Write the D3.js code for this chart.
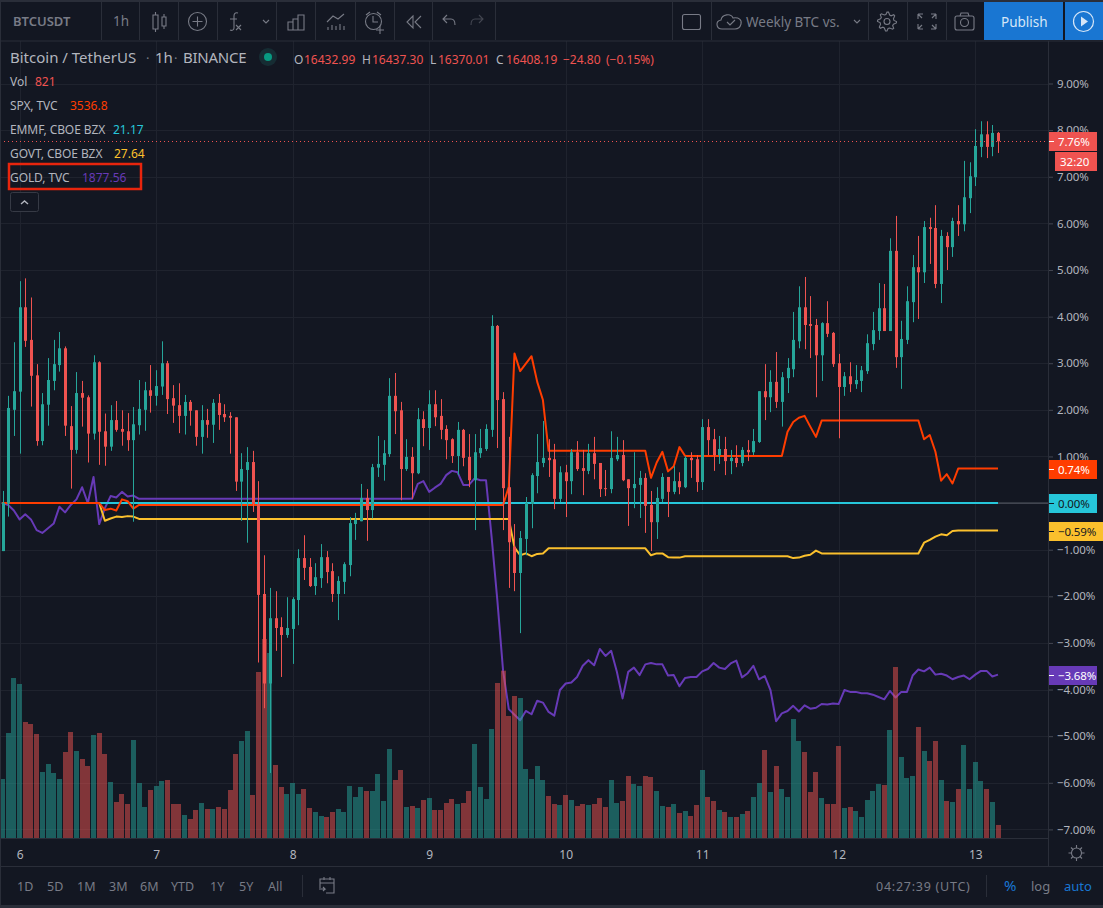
<!DOCTYPE html>
<html><head><meta charset="utf-8">
<script src="https://cdn.jsdelivr.net/npm/d3@7/dist/d3.min.js"></script>
<style>
html,body{margin:0;padding:0;background:#131722;overflow:hidden}
svg{display:block}
text{font-family:"Noto Sans","Open Sans",sans-serif}
</style></head><body><div id="chart"></div>
<script>
// ---------- data (percent change, one candle per hour, Dec 5 21:00 -> Dec 13 04:00) ----------
const opens=[-1.03,-.01,2.00,2.39,4.20,3.50,2.74,1.33,2.11,2.62,
2.96,3.32,1.65,1.14,2.36,2.27,1.49,3.02,1.54,1.21,
1.78,1.59,1.54,1.35,1.67,2.00,2.42,2.30,2.50,3.00,
2.25,2.10,1.87,2.17,1.99,1.42,1.78,1.68,2.15,1.91,
1.87,1.84,.46,.71,.88,-.02,-1.95,-3.87,-2.47,-2.66,
-2.83,-2.70,-2.08,-1.18,-1.37,-1.78,-1.61,-1.16,-1.46,-1.95,
-1.69,-1.33,-.45,-.39,.11,-.15,.76,.82,1.05,2.30,
1.99,.73,.99,.64,1.80,1.61,2.12,1.87,1.59,1.37,
1.01,1.57,.99,.49,1.07,1.16,1.57,3.80,2.23,.34,
-.94,-1.50,-.77,-.02,.58,.86,.97,.94,.09,.66,
.47,1.09,.75,.69,1.07,.86,.32,.30,.94,1.03,
.51,.32,.39,.54,-.04,-.41,.09,.56,.24,.47,
.34,.97,.94,.45,1.63,1.37,1.03,1.16,.90,.97,
.86,1.14,1.09,1.31,2.40,2.27,2.60,2.17,2.68,2.87,
3.47,4.20,3.84,3.82,3.17,3.86,3.65,3.00,2.49,2.72,
2.55,2.62,2.83,3.41,3.69,4.18,3.69,5.41,3.13,3.50,
4.31,5.06,4.95,5.92,5.90,4.70,5.73,5.49,6.05,5.98,
6.54,6.99,7.64,7.91,7.64,7.94];
const highs=[.26,2.30,3.45,4.76,4.82,4.41,2.98,2.36,3.11,3.50,
3.67,3.36,2.08,2.81,2.62,2.31,3.17,3.04,1.92,2.10,
2.19,1.99,1.93,2.06,2.64,2.60,2.96,2.85,3.47,3.05,
2.53,2.57,2.32,2.21,1.99,2.10,2.02,2.23,2.34,2.12,
1.95,1.84,1.07,1.20,1.12,.47,-1.12,-1.82,-1.89,-2.45,
-2.02,-2.02,-.99,-.69,-1.18,-1.29,-.88,-1.03,-1.29,-1.57,
-1.27,-.30,-.21,.41,.30,.84,1.44,1.35,2.68,2.79,
2.17,1.37,1.20,2.04,1.97,2.42,2.42,2.23,1.67,1.39,
1.74,1.59,1.48,1.48,1.59,1.69,4.03,3.82,2.38,1.42,
-.45,-.60,.13,.64,1.48,1.76,1.37,1.27,.79,.82,
1.16,1.33,1.14,1.27,1.42,.86,.71,1.54,1.42,1.35,
.51,1.09,.69,.64,.26,.34,.64,.56,.79,.66,
1.01,1.09,1.03,1.80,1.80,1.59,1.44,1.42,1.14,1.24,
1.20,1.35,1.59,2.40,2.98,2.85,3.24,2.81,3.11,4.10,
4.65,4.85,4.44,3.95,3.88,4.33,3.67,3.20,2.81,3.02,
2.96,2.94,3.62,4.10,4.72,4.70,5.68,6.16,3.91,4.65,
5.32,5.73,6.05,6.12,6.39,5.86,5.81,6.12,6.39,7.34,
7.31,8.02,8.19,8.19,8.11,7.96];
const lows=[-1.03,-.29,1.44,1.06,3.35,2.07,1.23,1.24,1.66,2.42,
2.82,1.44,.31,1.06,1.64,.87,1.36,.82,.80,1.12,
1.53,1.23,1.12,-.40,1.47,1.55,1.94,2.09,2.32,1.91,
1.72,1.50,1.47,1.66,1.23,1.06,1.40,1.29,1.57,1.74,
1.06,.26,-.38,-.85,-.19,-3.42,-4.40,-5.79,-3.17,-3.73,
-2.89,-3.45,-2.62,-1.65,-1.80,-1.97,-1.82,-1.72,-2.12,-2.51,
-1.95,-1.57,-.79,-.39,-.81,-.33,.56,.48,.99,1.48,
.06,.69,.09,.62,1.22,1.14,1.65,1.37,.94,.86,
.60,.79,.34,-.58,.97,1.12,1.42,1.18,-.58,-1.82,
-1.89,-2.79,-1.12,-.54,.21,.77,.56,-.13,.02,-.30,
.19,.69,.17,.62,.51,.13,.15,.21,.90,.47,
-.49,-.11,-.32,-.64,-1.03,-.77,.02,-.30,.19,.19,
.32,.54,.24,.28,1.03,.69,.84,.60,.62,.77,
.79,.90,1.03,1.29,1.78,1.95,2.04,1.64,2.36,2.70,
3.32,3.30,3.11,2.27,2.62,3.56,2.92,1.39,2.30,2.38,
2.45,2.38,2.77,3.28,3.50,3.69,3.69,2.90,2.45,3.41,
3.88,3.95,4.72,5.13,4.61,4.29,5.00,5.28,5.73,5.83,
6.22,6.80,7.42,7.40,7.44,7.51];
const closes=[0,2.04,2.40,4.20,3.48,2.73,1.33,2.12,2.64,2.98,
3.32,1.66,1.14,2.36,2.26,1.49,3.02,1.53,1.21,1.78,
1.57,1.53,1.35,1.69,2.02,2.42,2.30,2.51,3.00,2.23,
2.09,1.87,2.17,1.98,1.42,1.78,1.68,2.15,1.89,1.84,
1.83,.46,.73,.88,-.02,-1.97,-3.87,-2.47,-2.68,-2.83,
-2.68,-2.06,-1.18,-1.39,-1.78,-1.59,-1.16,-1.48,-1.95,-1.67,
-1.31,-.43,-.36,.11,-.15,.77,.84,1.07,2.30,1.97,
.73,.99,.64,1.80,1.61,2.12,1.84,1.57,1.35,1.01,
1.57,.97,.49,1.09,1.18,1.59,3.80,2.21,.32,-.84,
-1.50,-.75,0,.60,.88,.97,.92,.09,.66,.47,
1.09,.73,.69,1.07,.84,.30,.30,.97,1.03,.49,
.32,.41,.54,-.06,-.41,.11,.56,.24,.47,.34,
.97,.92,.45,1.63,1.35,1.03,1.16,.90,.97,.86,
1.14,1.09,1.33,2.40,2.27,2.60,2.17,2.70,2.90,3.50,
4.20,3.82,3.80,3.17,3.86,3.63,2.98,2.49,2.72,2.55,
2.64,2.85,3.43,3.71,4.18,3.69,5.41,3.13,3.52,4.33,
5.06,4.95,5.92,5.88,4.70,5.73,5.49,6.05,5.98,6.56,
7.01,7.66,7.91,7.64,7.94,7.76];
const volumes=[3717,6615,10080,9702,7308,7182,6552,4158,4662,4095,
3717,5418,6678,5481,4977,4536,6489,6615,5292,3528,
2268,2772,2142,6174,3465,1953,3024,3276,3591,3654,
2142,2142,1449,1197,1764,2205,1827,1827,1953,1827,
3024,5292,6111,6741,2709,10458,12537,11655,4599,3213,
2772,3465,2772,3087,1890,1638,1386,1323,1638,1827,
1638,3276,2583,3213,2961,2961,4032,2331,5607,3654,
4284,1953,2016,1890,2394,2520,1764,1764,2205,2457,
2142,2205,2961,5922,3213,2457,6867,9765,10542,7686,
8946,8820,4347,3717,4536,3654,2646,2142,2079,2709,
2394,2016,2142,2079,2142,2520,1953,3654,2205,2331,
3906,3402,3276,3906,3843,2961,2016,1953,2142,1575,
1701,1386,2079,4284,2583,2331,1764,1638,1323,1323,
1512,1701,2583,3465,5544,2898,4536,3087,2583,7497,
6111,5418,2898,4158,2520,2142,2142,5796,1890,1953,
1701,1323,2394,2961,3402,3339,6804,10773,5103,3780,
3906,6993,5481,4851,6111,3654,2331,2268,3087,5859,
3087,4788,3591,3087,2268,821];

// overlay series: hour index of each reading and its value
const spxHours=[0,17,18,19,20,21,22,23,24,88,89,90,91,93,94,95,96,113,114,115,116,117,118,119,120,137,138,139,140,141,142,143,144,161,162,163,164,165,166,167,168,175];
const spxValues=[0,0,-.15,-.12,-.16,.08,.04,-.12,-.04,-.04,.35,3.21,2.83,3.15,2.60,2.21,1.12,1.12,.54,.87,1.10,.68,.79,1.20,1.01,1.01,1.53,1.74,1.83,1.87,1.64,1.42,1.77,1.77,1.37,1.46,1.10,.48,.62,.42,.74,.74];
const emmfHours=[0,175];
const emmfValues=[0,0];
const govtHours=[0,17,18,19,20,21,22,23,24,89,90,91,92,93,94,95,96,113,114,115,116,117,118,119,120,138,139,140,141,142,143,144,161,162,163,164,165,166,167,168,175];
const govtValues=[0,0,-.38,-.33,-.29,-.30,-.28,-.29,-.34,-.34,-.95,-1.12,-1.08,-1.14,-1.09,-1.08,-.97,-.97,-1.12,-1.08,-1.08,-1.16,-1.17,-1.17,-1.14,-1.14,-1.18,-1.17,-1.13,-1.11,-1.02,-1.08,-1.08,-.85,-.79,-.72,-.67,-.69,-.60,-.59,-.59];
const goldHours=[0,1,2,3,4,5,6,7,8,9,10,11,12,13,14,15,16,17,18,19,20,21,22,23,24,72,73,74,75,76,77,78,79,80,81,82,83,84,85,86,87,88,89,90,91,92,93,94,95,96,97,98,99,100,101,102,103,104,105,106,107,108,109,110,111,112,113,114,115,116,117,118,119,120,121,122,123,124,125,126,127,128,129,130,131,132,133,134,135,136,137,138,139,140,141,142,143,144,145,146,147,148,149,150,151,152,153,154,155,156,157,158,159,160,161,162,163,164,165,166,167,168,169,170,171,172,173,174,175];
const goldValues=[0,-.04,-.16,-.35,-.24,-.35,-.58,-.64,-.54,-.44,-.08,-.20,-.04,.08,.34,0,.56,-.45,-.11,.15,.12,.24,.14,.16,.09,.09,.41,.47,.24,.33,.41,.60,.69,.66,.39,.39,.53,.49,.49,-.75,-2.10,-3.60,-4.42,-4.54,-4.66,-4.46,-4.53,-4.24,-4.28,-4.48,-4.56,-4.01,-3.87,-3.85,-3.73,-3.49,-3.37,-3.48,-3.13,-3.28,-3.17,-3.62,-4.19,-3.62,-3.53,-3.69,-3.46,-3.43,-3.46,-3.46,-3.70,-3.69,-3.93,-3.75,-3.73,-3.73,-3.61,-3.56,-3.43,-3.53,-3.56,-3.44,-3.38,-3.74,-3.65,-3.49,-3.78,-3.71,-4.01,-4.68,-4.51,-4.46,-4.35,-4.47,-4.34,-4.41,-4.39,-4.31,-4.32,-4.30,-4.31,-4.01,-4.05,-4.05,-4.08,-4.08,-4.11,-4.16,-4.21,-4.03,-4.17,-4.05,-4.05,-3.70,-3.57,-3.61,-3.53,-3.68,-3.66,-3.70,-3.78,-3.73,-3.70,-3.78,-3.68,-3.60,-3.60,-3.72,-3.68];

const dayHours=[3,27,51,75,99,123,147,171];
const dayLabels=["6","7","8","9","10","11","12","13"];
const pctTicks=[9,8,7,6,5,4,3,2,1,0,-1,-2,-3,-4,-5,-6,-7];
const rangeButtons=["1D","5D","1M","3M","6M","YTD","1Y","5Y","All"];
const legendNames=["SPX, TVC","EMMF, CBOE BZX","GOVT, CBOE BZX","GOLD, TVC"];
const legendValues=["3536.8","21.17","27.64","1877.56"];
const badgeValues=[7.76,.74,0,-.59,-3.68];

// ---------- style ----------
const C={bg:"#131722",grid:"#1f232e",line:"#2a2e39",text:"#b2b5be",mute:"#787b86",up:"#26a69a",down:"#ef5350",
 spx:"#ff3d00",emmf:"#26c6da",govt:"#fbc02d",gold:"#673ab7",blue:"#1976d2"};
const W=1103,H=908,plotR=1048,plotB=838,axisB=866;

const svg=d3.select("#chart").append("svg").attr("width",W).attr("height",H);
svg.append("rect").attr("width",W).attr("height",H).attr("fill",C.bg);

// ---------- scales ----------
const x=d3.scaleLinear().domain([0,175]).range([2.5,998]);
const y=d3.scaleLinear().domain([-7,9]).range([829.4,83.5]);
const v=d3.scaleLinear().domain([0,12537]).range([plotB,639]);

// ---------- grid ----------
const clipId="plotclip";
svg.append("clipPath").attr("id",clipId).append("rect").attr("x",1).attr("y",41).attr("width",plotR-1).attr("height",plotB-41);
const plot=svg.append("g").attr("clip-path",`url(#${clipId})`);
plot.append("g").selectAll("line").data(pctTicks).join("line")
 .attr("x1",0).attr("x2",plotR).attr("y1",d=>Math.round(y(d))+.5).attr("y2",d=>Math.round(y(d))+.5).attr("stroke",C.grid);
plot.append("g").selectAll("line").data(dayHours).join("line")
 .attr("y1",41).attr("y2",plotB).attr("x1",d=>Math.round(x(d))+.5).attr("x2",d=>Math.round(x(d))+.5).attr("stroke",C.grid);

// zero baseline
plot.append("line").attr("x1",0).attr("x2",plotR).attr("y1",y(0)).attr("y2",y(0)).attr("stroke","#5d606b").attr("stroke-width",1);

// ---------- overlay lines ----------
const line=d3.line().x(d=>x(d[0])).y(d=>y(d[1]));
[[goldHours,goldValues,C.gold],[govtHours,govtValues,C.govt],[emmfHours,emmfValues,C.emmf],[spxHours,spxValues,C.spx]]
.forEach(([hs,vs,col])=>{
 plot.append("path").datum(hs.map((h,i)=>[h,vs[i]])).attr("d",line).attr("fill","none")
  .attr("stroke",col).attr("stroke-width",2).attr("stroke-linejoin","round");
});

// ---------- volume ----------
const hours=d3.range(opens.length);
const isUp=i=>closes[i]>=opens[i];
plot.append("g").selectAll("rect").data(hours).join("rect")
 .attr("x",i=>Math.round(x(i)-2.5)).attr("width",5)
 .attr("y",i=>v(volumes[i])).attr("height",i=>plotB-v(volumes[i]))
 .attr("fill",i=>isUp(i)?"rgba(38,166,154,.5)":"rgba(239,83,80,.5)");

// ---------- candles ----------
const cg=plot.append("g");
cg.selectAll("line").data(hours).join("line")
 .attr("x1",i=>Math.round(x(i))+.5).attr("x2",i=>Math.round(x(i))+.5)
 .attr("y1",i=>y(highs[i])).attr("y2",i=>y(lows[i]))
 .attr("stroke",i=>isUp(i)?C.up:C.down);
cg.selectAll("rect").data(hours).join("rect")
 .attr("x",i=>Math.round(x(i))-1).attr("width",3)
 .attr("y",i=>y(Math.max(opens[i],closes[i])))
 .attr("height",i=>Math.max(1,Math.abs(y(opens[i])-y(closes[i]))))
 .attr("fill",i=>isUp(i)?C.up:C.down);

// last price dotted line
svg.append("line").attr("x1",0).attr("x2",plotR).attr("y1",Math.round(y(closes[175]))+.5).attr("y2",Math.round(y(closes[175]))+.5)
 .attr("stroke",C.down).attr("stroke-dasharray","1 3");

// ---------- axes ----------
const fmtPct=d=>(d<0?"\u2212":"")+Math.abs(d).toFixed(2)+"%";
const yAxis=d3.axisRight(y).tickValues(pctTicks).tickFormat(fmtPct).tickSize(5).tickPadding(4);
const yG=svg.append("g").attr("transform",`translate(${plotR},0)`).call(yAxis);
yG.select(".domain").remove();
yG.selectAll(".tick line").attr("stroke","#434651");
yG.selectAll(".tick text").attr("fill",C.text).attr("font-size",11.5).attr("letter-spacing",-.15).attr("font-family",'"Noto Sans"');

const dayText=d3.scaleOrdinal(dayHours,dayLabels);
const xAxis=d3.axisBottom(x).tickValues(dayHours).tickFormat(d=>dayText(d)).tickSize(0).tickPadding(12);
const xG=svg.append("g").attr("transform",`translate(0,${plotB})`).call(xAxis);
xG.select(".domain").remove();
xG.selectAll(".tick text").attr("fill",C.text).attr("font-size",12).attr("font-family",'"Noto Sans"');

// ---------- price badges ----------
const badgeColors=[C.down,C.spx,C.emmf,C.govt,C.gold];
const badgeText=["#fff","#fff","#131722","#131722","#fff"];
const badgeRight=[1097,1097,1097,1103,1097];
const badgeG=svg.append("g").selectAll("g").data(badgeValues).join("g");
badgeG.append("rect").attr("x",1049).attr("width",(d,i)=>badgeRight[i]-1049).attr("height",19)
 .attr("y",d=>Math.round(y(d))-9).attr("fill",(d,i)=>badgeColors[i]);
badgeG.append("line").attr("x1",1049).attr("x2",1054).attr("y1",d=>Math.round(y(d))+.5).attr("y2",d=>Math.round(y(d))+.5)
 .attr("stroke",(d,i)=>badgeText[i]);
badgeG.append("text").attr("x",1058).attr("y",d=>Math.round(y(d))+4.5).attr("font-size",11.5).attr("letter-spacing",-.15)
 .attr("fill",(d,i)=>badgeText[i]).text(fmtPct);
svg.append("rect").attr("x",1055).attr("y",152).attr("width",42).attr("height",19).attr("fill",C.down);
svg.append("text").attr("x",1060).attr("y",166).attr("font-size",11.5).attr("fill","#fff").text("32:20");

// ---------- panel frame ----------
const frame=svg.append("g").attr("stroke",C.line).attr("fill","none");
[[0,41,W,41],[0,plotB+.5,plotR+1,plotB+.5],[0,axisB+.5,W,axisB+.5],[plotR+.5,41,plotR+.5,axisB],[.5,0,.5,H]]
 .forEach(l=>frame.append("line").attr("x1",l[0]).attr("y1",l[1]).attr("x2",l[2]).attr("y2",l[3]));
svg.append("rect").attr("x",0).attr("y",0).attr("width",W).attr("height",2).attr("fill","#2a2e39");
svg.append("rect").attr("x",0).attr("y",905).attr("width",W).attr("height",3).attr("fill","#2a2e39");

// ---------- toolbar ----------
const tb=svg.append("g");
[101,139,178,217,276,315,355,394,432,495,672,711,868,907,946].forEach(px=>
 tb.append("line").attr("x1",px+.5).attr("x2",px+.5).attr("y1",2).attr("y2",40).attr("stroke",C.line));
const txt=(g,t,px,py,size,col,extra)=>{const e=g.append("text").attr("x",px).attr("y",py).attr("font-size",size).attr("fill",col).text(t);if(extra)e.attr("font-weight",extra);return e;};
txt(tb,"BTCUSDT",13,26,13,C.mute,600);
txt(tb,"1h",113,26,13.5,C.mute);
txt(tb,"Weekly BTC vs.",746,27,13.5,C.mute);
tb.append("rect").attr("x",984).attr("y",2).attr("width",79).attr("height",38).attr("fill",C.blue);
tb.append("rect").attr("x",1065).attr("y",2).attr("width",38).attr("height",38).attr("fill",C.blue);
txt(tb,"Publish",1001,27,13.5,"#d6e6f7");
const ic=svg.append("g").attr("fill","none").attr("stroke",C.mute).attr("stroke-width",1.1);
const p=d=>ic.append("path").attr("d",d);
// candles
p("M153 15h5v14h-5zM155.5 12v3M155.5 29v3M162 17h4v9h-4zM164 14v3M164 26v3");
// plus circle
ic.append("circle").attr("cx",197.5).attr("cy",21.5).attr("r",9);p("M192.5 21.5h10M197.5 16.5v10");
// f(x)
p("M238 13c-3 -1 -4 1 -4 3v12c0 2 -2 3 -4 2M230 19h7M236 25l5 5M241 25l-5 5");
p("M263 20l3 3 3-3");
// bars
p("M288 22h5v8h-5zM293 19h5v11h-5zM298 15h6v15h-6z");
// compare
p("M327 22l6-6 5 3 6-5M328 30v-3M332 30v-5M336 30v-4M340 30v-6M344 30v-4");
// alarm
ic.append("circle").attr("cx",373.5).attr("cy",21.5).attr("r",8);p("M373 16v6h5M366 15l4-3M381 15l-4-3M380 26v8M376 30h8");
// replay
p("M413 16l-6 6 6 6zM421 16l-6 6 6 6");
// undo redo
p("M447 15l-4 4 4 4M443 19h8c3 0 4 3 4 6");
ic.append("path").attr("d","M479 15l4 4-4 4M483 19h-8c-3 0-4 3-4 6").attr("stroke","#434651");
// square
ic.append("rect").attr("x",682.5).attr("y",14.5).attr("width",18).attr("height",15).attr("rx",2);
// cloud
p("M724 29h-2c-6 0-7-8-1-9 1-6 10-7 12-2 6-1 9 2 8 6-1 4-3 5-6 5zM727 22l3 3 5-5");
p("M854 20l3 3 3-3");
// gear
const gearAngles=d3.range(0,360,45);
ic.append("circle").attr("cx",887).attr("cy",21.5).attr("r",3);
ic.append("path").attr("d",d3.lineRadial().curve(d3.curveLinearClosed).angle(d=>d*Math.PI/180).radius(d=>(d%45===0||d%45===9)?9.5:7)(gearAngles.flatMap(a=>[a,a+9,a+22.5,a+36].map(d=>d))))
 .attr("transform","translate(887,21.5)");
// fullscreen
p("M918 14h5M918 14v5M918 14l4 4M936 14h-5M936 14v5M936 14l-4 4M918 29h5M918 29v-5M918 29l4-4M936 29h-5M936 29v-5M936 29l-4-4");
// camera
ic.append("rect").attr("x",955).attr("y",16).attr("width",19).attr("height",14).attr("rx",2);
ic.append("circle").attr("cx",964.5).attr("cy",22.5).attr("r",4);p("M960 16l1-3h7l1 3");
// play
svg.append("circle").attr("cx",1083.5).attr("cy",21.5).attr("r",10).attr("fill","none").attr("stroke","#d6e6f7").attr("stroke-width",1.2);
svg.append("path").attr("d","M1081 16.5l7 5-7 5z").attr("fill","#d6e6f7");

// ---------- legend ----------
const lg=svg.append("g");
txt(lg,"Bitcoin / TetherUS",10,63,15,C.text);
txt(lg,"\u00b7",146,63,13,C.mute);
txt(lg,"1h",155,63,15,C.text);
txt(lg,"\u00b7",174,63,13,C.mute);
txt(lg,"BINANCE",183,63,15,C.text).attr("letter-spacing",-.25);
lg.append("circle").attr("cx",268).attr("cy",57).attr("r",9).attr("fill","rgba(38,166,154,.15)");
lg.append("circle").attr("cx",268).attr("cy",57).attr("r",4).attr("fill","#089981");
[["O",294,"16432.99",304],["H",362,"16437.30",372],["L",430,"16370.01",438],["C",496,"16408.19",506]].forEach(r=>{
 txt(lg,r[0],r[1],64,12,C.text);txt(lg,r[2],r[3],64,12,C.down);
});
txt(lg,"\u221224.80",563,64,12,C.down);
txt(lg,"(\u22120.15%)",606,64,12,C.down);
txt(lg,"Vol",10,86,12,C.text);txt(lg,"821",35,86,12,C.down);
const legendY=[110,134,158,182],legendX=[70,113,114,82],legendCol=[C.spx,C.emmf,C.govt,C.gold];
legendNames.forEach((n,i)=>{txt(lg,n,10,legendY[i],12,C.text).attr("letter-spacing",-.1);txt(lg,legendValues[i],legendX[i],legendY[i],12,legendCol[i]);});
lg.append("rect").attr("x",9).attr("y",164).attr("width",132).attr("height",25).attr("fill","none").attr("stroke","#e8250d").attr("stroke-width",2.5);
lg.append("rect").attr("x",10.5).attr("y",192.5).attr("width",28).attr("height",19).attr("rx",2).attr("fill",C.bg).attr("stroke","#363a45");
lg.append("path").attr("d","M21 204l3.5-3 3.5 3").attr("fill","none").attr("stroke",C.text).attr("stroke-width",1.4);

// ---------- bottom bar ----------
const bb=svg.append("g");
const rangeX=[17,47,77,109,140,171,210,239,268];
rangeButtons.forEach((t,i)=>txt(bb,t,rangeX[i],891,12.5,C.mute));
bb.append("line").attr("x1",302.5).attr("x2",302.5).attr("y1",875).attr("y2",897).attr("stroke",C.line);
const ic2=svg.append("g").attr("fill","none").attr("stroke",C.mute).attr("stroke-width",1.1);
ic2.append("path").attr("d","M320 888v-9h14v14h-8M320 883h14M324 877v3M330 877v3M319 889h6l-2-2M325 889l-2 2");
txt(bb,"04:27:39 (UTC)",876,891,12.5,C.mute).attr("letter-spacing",.75);
bb.append("line").attr("x1",986.5).attr("x2",986.5).attr("y1",875).attr("y2",897).attr("stroke",C.line);
txt(bb,"%",1004,891,15,C.blue);
txt(bb,"log",1031,891,13,C.mute);
txt(bb,"auto",1064,891,13,C.blue);
// brightness icon
ic2.append("circle").attr("cx",1076.5).attr("cy",853).attr("r",5);
ic2.append("path").attr("d","M1076.5 845v3M1076.5 858v3M1068.5 853h3M1081.5 853h3M1071 847.5l2 2M1080 856.5l2 2M1082 847.5l-2 2M1073 856.5l-2 2");
</script></body></html>
